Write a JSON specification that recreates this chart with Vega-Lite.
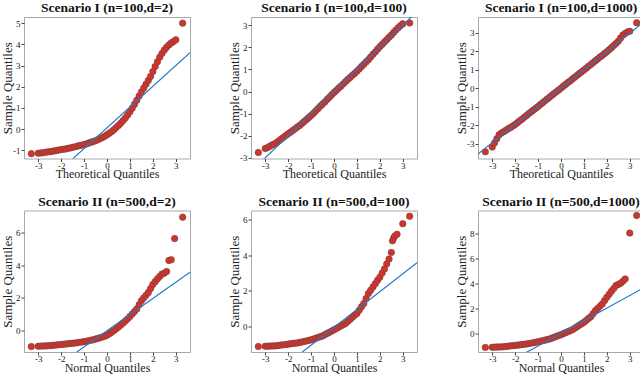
{
 "$schema": "https://vega.github.io/schema/vega-lite/v6.json",
 "padding": {"left": 0, "top": 0, "right": 0, "bottom": 0},
 "background": "white",
 "spacing": 13.5,
 "config": {
  "view": {"stroke": "#a8a8a8", "strokeWidth": 1},
  "title": {"font": "Liberation Serif", "fontSize": 13.5, "fontWeight": "bold", "offset": 2.5, "anchor": "middle", "color": "#111"},
  "axis": {"labelFont": "Liberation Serif", "titleFont": "Liberation Serif", "labelFontSize": 9, "titleFontWeight": "normal", "grid": false, "domain": false, "tickSize": 3, "tickColor": "#444", "labelColor": "#222", "titleColor": "#222", "labelPadding": 1, "labelExpr": "replace(datum.label, '\u2212', '-')"},
  "axisX": {"titleFontSize": 12, "titlePadding": 0, "minExtent": 10, "maxExtent": 10, "labelPadding": -0.5},
  "axisY": {"titleFontSize": 13, "titlePadding": 0, "minExtent": 10, "maxExtent": 10},
  "point": {"filled": true, "fill": "#d0352b", "stroke": "#7a4040", "strokeWidth": 0.6, "size": 42, "opacity": 1},
  "line": {"stroke": "#2878c8", "strokeWidth": 1.2}
 },
 "vconcat": [
  {"hconcat": [
   {"width": 166, "height": 141.5, "title": "Scenario I (n=100,d=2)",
    "encoding": {
     "x": {"field": "x", "type": "quantitative", "scale": {"domain": [-3.62, 3.62], "nice": false, "zero": false}, "axis": {"title": "Theoretical Quantiles", "values": [-3,-2,-1,0,1,2,3]}},
     "y": {"field": "y", "type": "quantitative", "scale": {"domain": [-1.39, 5.3], "nice": false, "zero": false}, "axis": {"title": "Sample Quantiles", "values": [-1,0,1,2,3,4,5]}}
    },
    "layer": [
     {"data": {"values": [{"x":-3.3,"y":-1.16},{"x":-3.0,"y":-1.14},{"x":-2.9,"y":-1.13},{"x":-2.8,"y":-1.12},{"x":-2.7,"y":-1.10},{"x":-2.6,"y":-1.08},{"x":-2.5,"y":-1.07},{"x":-2.4,"y":-1.05},{"x":-2.3,"y":-1.03},{"x":-2.2,"y":-1.01},{"x":-2.1,"y":-0.99},{"x":-2.0,"y":-0.97},{"x":-1.9,"y":-0.95},{"x":-1.8,"y":-0.94},{"x":-1.7,"y":-0.91},{"x":-1.6,"y":-0.89},{"x":-1.5,"y":-0.86},{"x":-1.4,"y":-0.84},{"x":-1.3,"y":-0.81},{"x":-1.2,"y":-0.78},{"x":-1.1,"y":-0.76},{"x":-1.0,"y":-0.73},{"x":-0.9,"y":-0.70},{"x":-0.8,"y":-0.66},{"x":-0.7,"y":-0.62},{"x":-0.6,"y":-0.59},{"x":-0.5,"y":-0.55},{"x":-0.4,"y":-0.50},{"x":-0.3,"y":-0.45},{"x":-0.2,"y":-0.40},{"x":-0.1,"y":-0.34},{"x":0.0,"y":-0.27},{"x":0.1,"y":-0.20},{"x":0.2,"y":-0.12},{"x":0.3,"y":-0.03},{"x":0.4,"y":0.07},{"x":0.5,"y":0.17},{"x":0.6,"y":0.28},{"x":0.7,"y":0.40},{"x":0.8,"y":0.53},{"x":0.9,"y":0.67},{"x":1.0,"y":0.82},{"x":1.1,"y":0.99},{"x":1.2,"y":1.17},{"x":1.3,"y":1.36},{"x":1.4,"y":1.56},{"x":1.5,"y":1.76},{"x":1.6,"y":1.94},{"x":1.7,"y":2.12},{"x":1.8,"y":2.30},{"x":1.9,"y":2.49},{"x":2.0,"y":2.72},{"x":2.1,"y":2.96},{"x":2.2,"y":3.18},{"x":2.3,"y":3.40},{"x":2.4,"y":3.58},{"x":2.5,"y":3.74},{"x":2.6,"y":3.87},{"x":2.7,"y":3.98},{"x":2.8,"y":4.07},{"x":2.9,"y":4.14},{"x":3.0,"y":4.22},{"x":3.3,"y":5.01}]},
      "mark": {"type": "point"}},
     {"data": {"values": [{"x":-3.62,"y":-3.49},{"x":3.62,"y":3.61}]},
      "mark": {"type": "line", "clip": true}}
    ]},
   {"width": 166, "height": 141.5, "title": "Scenario I (n=100,d=100)",
    "encoding": {
     "x": {"field": "x", "type": "quantitative", "scale": {"domain": [-3.62, 3.62], "nice": false, "zero": false}, "axis": {"title": "Theoretical Quantiles", "values": [-3,-2,-1,0,1,2,3]}},
     "y": {"field": "y", "type": "quantitative", "scale": {"domain": [-3.03, 3.37], "nice": false, "zero": false}, "axis": {"title": "Sample Quantiles", "values": [-3,-2,-1,0,1,2,3]}}
    },
    "layer": [
     {"data": {"values": [{"x":-3.3,"y":-2.76},{"x":-3.0,"y":-2.58},{"x":-2.9,"y":-2.54},{"x":-2.8,"y":-2.48},{"x":-2.7,"y":-2.42},{"x":-2.6,"y":-2.37},{"x":-2.5,"y":-2.31},{"x":-2.4,"y":-2.23},{"x":-2.3,"y":-2.15},{"x":-2.2,"y":-2.07},{"x":-2.1,"y":-1.99},{"x":-2.0,"y":-1.91},{"x":-1.9,"y":-1.84},{"x":-1.8,"y":-1.76},{"x":-1.7,"y":-1.69},{"x":-1.6,"y":-1.61},{"x":-1.5,"y":-1.54},{"x":-1.4,"y":-1.45},{"x":-1.3,"y":-1.36},{"x":-1.2,"y":-1.27},{"x":-1.1,"y":-1.18},{"x":-1.0,"y":-1.09},{"x":-0.9,"y":-0.99},{"x":-0.8,"y":-0.88},{"x":-0.7,"y":-0.78},{"x":-0.6,"y":-0.67},{"x":-0.5,"y":-0.57},{"x":-0.4,"y":-0.47},{"x":-0.3,"y":-0.36},{"x":-0.2,"y":-0.26},{"x":-0.1,"y":-0.15},{"x":0.0,"y":-0.05},{"x":0.1,"y":0.05},{"x":0.2,"y":0.15},{"x":0.3,"y":0.24},{"x":0.4,"y":0.34},{"x":0.5,"y":0.44},{"x":0.6,"y":0.54},{"x":0.7,"y":0.63},{"x":0.8,"y":0.73},{"x":0.9,"y":0.82},{"x":1.0,"y":0.92},{"x":1.1,"y":1.02},{"x":1.2,"y":1.13},{"x":1.3,"y":1.23},{"x":1.4,"y":1.34},{"x":1.5,"y":1.44},{"x":1.6,"y":1.56},{"x":1.7,"y":1.68},{"x":1.8,"y":1.79},{"x":1.9,"y":1.91},{"x":2.0,"y":2.03},{"x":2.1,"y":2.13},{"x":2.2,"y":2.24},{"x":2.3,"y":2.34},{"x":2.4,"y":2.45},{"x":2.5,"y":2.55},{"x":2.6,"y":2.67},{"x":2.7,"y":2.78},{"x":2.8,"y":2.88},{"x":2.9,"y":2.98},{"x":3.0,"y":3.06},{"x":3.3,"y":3.1}]},
      "mark": {"type": "point"}},
     {"data": {"values": [{"x":-3.62,"y":-3.62},{"x":3.62,"y":3.62}]},
      "mark": {"type": "line", "clip": true}}
    ]},
   {"width": 166, "height": 141.5, "title": "Scenario I (n=100,d=1000)",
    "encoding": {
     "x": {"field": "x", "type": "quantitative", "scale": {"domain": [-3.62, 3.62], "nice": false, "zero": false}, "axis": {"title": "Theoretical Quantiles", "values": [-3,-2,-1,0,1,2,3]}},
     "y": {"field": "y", "type": "quantitative", "scale": {"domain": [-3.8, 3.86], "nice": false, "zero": false}, "axis": {"title": "Sample Quantiles", "values": [-3,-2,-1,0,1,2,3]}}
    },
    "layer": [
     {"data": {"values": [{"x":-3.3,"y":-3.44},{"x":-3.0,"y":-3.18},{"x":-2.9,"y":-2.96},{"x":-2.8,"y":-2.73},{"x":-2.7,"y":-2.52},{"x":-2.6,"y":-2.42},{"x":-2.5,"y":-2.35},{"x":-2.4,"y":-2.27},{"x":-2.3,"y":-2.19},{"x":-2.2,"y":-2.12},{"x":-2.1,"y":-2.04},{"x":-2.0,"y":-1.96},{"x":-1.9,"y":-1.86},{"x":-1.8,"y":-1.76},{"x":-1.7,"y":-1.67},{"x":-1.6,"y":-1.57},{"x":-1.5,"y":-1.47},{"x":-1.4,"y":-1.37},{"x":-1.3,"y":-1.27},{"x":-1.2,"y":-1.18},{"x":-1.1,"y":-1.08},{"x":-1.0,"y":-0.98},{"x":-0.9,"y":-0.88},{"x":-0.8,"y":-0.78},{"x":-0.7,"y":-0.68},{"x":-0.6,"y":-0.58},{"x":-0.5,"y":-0.48},{"x":-0.4,"y":-0.38},{"x":-0.3,"y":-0.28},{"x":-0.2,"y":-0.19},{"x":-0.1,"y":-0.09},{"x":0.0,"y":0.01},{"x":0.1,"y":0.11},{"x":0.2,"y":0.21},{"x":0.3,"y":0.31},{"x":0.4,"y":0.40},{"x":0.5,"y":0.50},{"x":0.6,"y":0.60},{"x":0.7,"y":0.70},{"x":0.8,"y":0.80},{"x":0.9,"y":0.89},{"x":1.0,"y":0.99},{"x":1.1,"y":1.09},{"x":1.2,"y":1.19},{"x":1.3,"y":1.29},{"x":1.4,"y":1.39},{"x":1.5,"y":1.49},{"x":1.6,"y":1.59},{"x":1.7,"y":1.69},{"x":1.8,"y":1.78},{"x":1.9,"y":1.88},{"x":2.0,"y":1.98},{"x":2.1,"y":2.09},{"x":2.2,"y":2.20},{"x":2.3,"y":2.32},{"x":2.4,"y":2.43},{"x":2.5,"y":2.55},{"x":2.6,"y":2.72},{"x":2.7,"y":2.88},{"x":2.8,"y":2.97},{"x":2.9,"y":3.05},{"x":3.0,"y":3.09},{"x":3.3,"y":3.55}]},
      "mark": {"type": "point"}},
     {"data": {"values": [{"x":-3.62,"y":-3.56},{"x":3.62,"y":3.60}]},
      "mark": {"type": "line", "clip": true}}
    ]}
  ], "spacing": 36},
  {"hconcat": [
   {"width": 166, "height": 141.5, "title": "Scenario II (n=500,d=2)",
    "encoding": {
     "x": {"field": "x", "type": "quantitative", "scale": {"domain": [-3.62, 3.62], "nice": false, "zero": false}, "axis": {"title": "Normal Quantiles", "values": [-3,-2,-1,0,1,2,3]}},
     "y": {"field": "y", "type": "quantitative", "scale": {"domain": [-1.33, 7.34], "nice": false, "zero": false}, "axis": {"title": "Sample Quantiles", "values": [0,2,4,6]}}
    },
    "layer": [
     {"data": {"values": [{"x":-3.3,"y":-1.0},{"x":-3.0,"y":-0.98},{"x":-2.9,"y":-0.97},{"x":-2.8,"y":-0.96},{"x":-2.7,"y":-0.96},{"x":-2.6,"y":-0.95},{"x":-2.5,"y":-0.94},{"x":-2.4,"y":-0.93},{"x":-2.3,"y":-0.91},{"x":-2.2,"y":-0.90},{"x":-2.1,"y":-0.88},{"x":-2.0,"y":-0.87},{"x":-1.9,"y":-0.86},{"x":-1.8,"y":-0.84},{"x":-1.7,"y":-0.83},{"x":-1.6,"y":-0.81},{"x":-1.5,"y":-0.80},{"x":-1.4,"y":-0.78},{"x":-1.3,"y":-0.76},{"x":-1.2,"y":-0.74},{"x":-1.1,"y":-0.72},{"x":-1.0,"y":-0.70},{"x":-0.9,"y":-0.67},{"x":-0.8,"y":-0.64},{"x":-0.7,"y":-0.61},{"x":-0.6,"y":-0.58},{"x":-0.5,"y":-0.54},{"x":-0.4,"y":-0.50},{"x":-0.3,"y":-0.46},{"x":-0.2,"y":-0.41},{"x":-0.1,"y":-0.36},{"x":0.0,"y":-0.30},{"x":0.1,"y":-0.21},{"x":0.2,"y":-0.12},{"x":0.3,"y":-0.02},{"x":0.4,"y":0.09},{"x":0.5,"y":0.20},{"x":0.6,"y":0.32},{"x":0.7,"y":0.44},{"x":0.8,"y":0.57},{"x":0.9,"y":0.70},{"x":1.0,"y":0.85},{"x":1.1,"y":1.00},{"x":1.2,"y":1.15},{"x":1.3,"y":1.31},{"x":1.4,"y":1.56},{"x":1.5,"y":1.81},{"x":1.6,"y":1.98},{"x":1.7,"y":2.14},{"x":1.8,"y":2.31},{"x":1.9,"y":2.56},{"x":2.0,"y":2.81},{"x":2.1,"y":2.98},{"x":2.2,"y":3.15},{"x":2.3,"y":3.30},{"x":2.4,"y":3.45},{"x":2.5,"y":3.50},{"x":2.6,"y":3.60},{"x":2.7,"y":4.28},{"x":2.8,"y":4.32},{"x":2.95,"y":5.62},{"x":3.3,"y":6.93}]},
      "mark": {"type": "point"}},
     {"data": {"values": [{"x":-3.62,"y":-3.61},{"x":3.62,"y":3.55}]},
      "mark": {"type": "line", "clip": true}}
    ]},
   {"width": 166, "height": 141.5, "title": "Scenario II (n=500,d=100)",
    "encoding": {
     "x": {"field": "x", "type": "quantitative", "scale": {"domain": [-3.62, 3.62], "nice": false, "zero": false}, "axis": {"title": "Normal Quantiles", "values": [-3,-2,-1,0,1,2,3]}},
     "y": {"field": "y", "type": "quantitative", "scale": {"domain": [-1.42, 6.5], "nice": false, "zero": false}, "axis": {"title": "Sample Quantiles", "values": [0,2,4,6]}}
    },
    "layer": [
     {"data": {"values": [{"x":-3.3,"y":-1.11},{"x":-3.0,"y":-1.10},{"x":-2.9,"y":-1.10},{"x":-2.8,"y":-1.09},{"x":-2.7,"y":-1.08},{"x":-2.6,"y":-1.08},{"x":-2.5,"y":-1.07},{"x":-2.4,"y":-1.05},{"x":-2.3,"y":-1.03},{"x":-2.2,"y":-1.02},{"x":-2.1,"y":-1.00},{"x":-2.0,"y":-0.98},{"x":-1.9,"y":-0.96},{"x":-1.8,"y":-0.94},{"x":-1.7,"y":-0.93},{"x":-1.6,"y":-0.91},{"x":-1.5,"y":-0.89},{"x":-1.4,"y":-0.86},{"x":-1.3,"y":-0.83},{"x":-1.2,"y":-0.80},{"x":-1.1,"y":-0.77},{"x":-1.0,"y":-0.74},{"x":-0.9,"y":-0.70},{"x":-0.8,"y":-0.65},{"x":-0.7,"y":-0.61},{"x":-0.6,"y":-0.56},{"x":-0.5,"y":-0.52},{"x":-0.4,"y":-0.45},{"x":-0.3,"y":-0.38},{"x":-0.2,"y":-0.32},{"x":-0.1,"y":-0.25},{"x":0.0,"y":-0.18},{"x":0.1,"y":-0.11},{"x":0.2,"y":-0.04},{"x":0.3,"y":0.04},{"x":0.4,"y":0.11},{"x":0.5,"y":0.18},{"x":0.6,"y":0.29},{"x":0.7,"y":0.40},{"x":0.8,"y":0.52},{"x":0.9,"y":0.63},{"x":1.0,"y":0.74},{"x":1.1,"y":0.92},{"x":1.2,"y":1.11},{"x":1.3,"y":1.29},{"x":1.4,"y":1.57},{"x":1.5,"y":1.85},{"x":1.6,"y":2.03},{"x":1.7,"y":2.22},{"x":1.8,"y":2.40},{"x":1.9,"y":2.59},{"x":2.0,"y":2.77},{"x":2.1,"y":3.00},{"x":2.2,"y":3.23},{"x":2.3,"y":3.51},{"x":2.4,"y":3.78},{"x":2.5,"y":4.15},{"x":2.55,"y":4.80},{"x":2.6,"y":4.95},{"x":2.65,"y":5.07},{"x":2.75,"y":5.17},{"x":3.0,"y":5.76},{"x":3.3,"y":6.18}]},
      "mark": {"type": "point"}},
     {"data": {"values": [{"x":-3.62,"y":-3.66},{"x":3.62,"y":3.58}]},
      "mark": {"type": "line", "clip": true}}
    ]},
   {"width": 166, "height": 141.5, "title": "Scenario II (n=500,d=1000)",
    "encoding": {
     "x": {"field": "x", "type": "quantitative", "scale": {"domain": [-3.62, 3.62], "nice": false, "zero": false}, "axis": {"title": "Normal Quantiles", "values": [-3,-2,-1,0,1,2,3]}},
     "y": {"field": "y", "type": "quantitative", "scale": {"domain": [-1.52, 9.81], "nice": false, "zero": false}, "axis": {"title": "Sample Quantiles", "values": [0,2,4,6,8]}}
    },
    "layer": [
     {"data": {"values": [{"x":-3.3,"y":-1.15},{"x":-3.0,"y":-1.14},{"x":-2.9,"y":-1.13},{"x":-2.8,"y":-1.12},{"x":-2.7,"y":-1.12},{"x":-2.6,"y":-1.11},{"x":-2.5,"y":-1.10},{"x":-2.4,"y":-1.08},{"x":-2.3,"y":-1.06},{"x":-2.2,"y":-1.03},{"x":-2.1,"y":-1.01},{"x":-2.0,"y":-0.99},{"x":-1.9,"y":-0.97},{"x":-1.8,"y":-0.95},{"x":-1.7,"y":-0.92},{"x":-1.6,"y":-0.90},{"x":-1.5,"y":-0.88},{"x":-1.4,"y":-0.84},{"x":-1.3,"y":-0.81},{"x":-1.2,"y":-0.77},{"x":-1.1,"y":-0.74},{"x":-1.0,"y":-0.70},{"x":-0.9,"y":-0.66},{"x":-0.8,"y":-0.61},{"x":-0.7,"y":-0.57},{"x":-0.6,"y":-0.52},{"x":-0.5,"y":-0.48},{"x":-0.4,"y":-0.41},{"x":-0.3,"y":-0.34},{"x":-0.2,"y":-0.27},{"x":-0.1,"y":-0.20},{"x":0.0,"y":-0.13},{"x":0.1,"y":-0.05},{"x":0.2,"y":0.03},{"x":0.3,"y":0.11},{"x":0.4,"y":0.19},{"x":0.5,"y":0.27},{"x":0.6,"y":0.39},{"x":0.7,"y":0.51},{"x":0.8,"y":0.62},{"x":0.9,"y":0.74},{"x":1.0,"y":0.86},{"x":1.1,"y":1.01},{"x":1.2,"y":1.16},{"x":1.3,"y":1.31},{"x":1.4,"y":1.55},{"x":1.5,"y":1.79},{"x":1.6,"y":1.97},{"x":1.7,"y":2.15},{"x":1.8,"y":2.33},{"x":1.9,"y":2.60},{"x":2.0,"y":2.86},{"x":2.1,"y":3.10},{"x":2.2,"y":3.34},{"x":2.3,"y":3.57},{"x":2.4,"y":3.80},{"x":2.5,"y":3.89},{"x":2.6,"y":3.98},{"x":2.7,"y":4.15},{"x":2.8,"y":4.33},{"x":3.0,"y":8.0},{"x":3.3,"y":9.41}]},
      "mark": {"type": "point"}},
     {"data": {"values": [{"x":-3.62,"y":-3.69},{"x":3.62,"y":3.63}]},
      "mark": {"type": "line", "clip": true}}
    ]}
  ], "spacing": 36}
 ]
}
